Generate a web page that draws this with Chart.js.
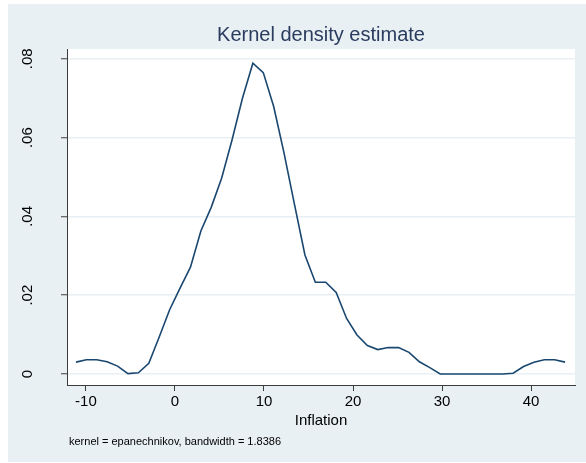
<!DOCTYPE html>
<html>
<head>
<meta charset="utf-8">
<title>Kernel density estimate</title>
<script src="https://cdn.jsdelivr.net/npm/chart.js@4/dist/chart.umd.min.js"></script>
<style>
  html, body { margin: 0; padding: 0; background: #ffffff; }
  #wrap { position: relative; width: 586px; height: 463px; }
  canvas { display: block; }
</style>
</head>
<body>
<div id="wrap"><canvas id="kd" width="586" height="463"></canvas></div>
<script>
// Evaluation grid (inflation, %) and estimated density at each grid point
const inflationGrid = [
  -11.12, -9.96, -8.79, -7.62, -6.45, -5.28, -4.11, -2.94, -1.77, -0.60,
   0.57,   1.74,  2.91,  4.07,  5.24,  6.41,  7.58,  8.75,  9.92, 11.09,
  12.26,  13.43, 14.60, 15.77, 16.94, 18.11, 19.28, 20.45, 21.62, 22.78,
  23.95,  25.12, 26.29, 27.46, 28.63, 29.80, 30.97, 32.14, 33.31, 34.48,
  35.65,  36.82, 37.99, 39.16, 40.33, 41.49, 42.66, 43.83
];
const densityValues = [
  0.0030, 0.0036, 0.0036, 0.0031, 0.0020, 0.0001, 0.0003, 0.0027, 0.0094, 0.0163,
  0.0218, 0.0271, 0.0363, 0.0423, 0.0497, 0.0594, 0.0700, 0.0789, 0.0765, 0.0679,
  0.0560, 0.0430, 0.0302, 0.0233, 0.0233, 0.0207, 0.0141, 0.0099, 0.0072, 0.0062,
  0.0067, 0.0067, 0.0055, 0.0031, 0.0016, 0.0000, 0.0000, 0.0000, 0.0000, 0.0000,
  0.0000, 0.0000, 0.0002, 0.0019, 0.0030, 0.0036, 0.0036, 0.0030
];
const xTickValues = [-10, 0, 10, 20, 30, 40];
const yTickValues = [0, 0.02, 0.04, 0.06, 0.08];
const yTickLabels = ['0', '.02', '.04', '.06', '.08'];

const titleText = 'Kernel density estimate';
const xAxisTitle = 'Inflation';
const noteText = 'kernel = epanechnikov, bandwidth = 1.8386';

const FONT = '"Liberation Sans", Arial, Helvetica, sans-serif';
const regionColor = '#E8F0F3';
const gridColor = '#E9F0F3';
const lineColor = '#1A476F';
const titleColor = '#2A3B5E';
const axisColor = '#3c3c3c';

// Backgrounds: graph region and white plot region
const backgroundPlugin = {
  id: 'backgrounds',
  beforeDraw(chart) {
    const { ctx, chartArea } = chart;
    ctx.save();
    ctx.fillStyle = '#ffffff';
    ctx.fillRect(0, 0, chart.width, chart.height);
    ctx.fillStyle = regionColor;
    ctx.fillRect(8, 4, chart.width - 8, chart.height - 5);
    ctx.fillStyle = '#ffffff';
    ctx.fillRect(chartArea.left, chartArea.top,
                 chartArea.right - chartArea.left, chartArea.bottom - chartArea.top);
    ctx.restore();
  }
};

// Title, rotated y labels, x-axis title and note
const textPlugin = {
  id: 'texts',
  afterDraw(chart) {
    const { ctx, chartArea } = chart;
    const yScale = chart.scales.y;
    const cx = (chartArea.left + chartArea.right) / 2;
    ctx.save();
    ctx.fillStyle = titleColor;
    ctx.font = '20px ' + FONT;
    ctx.textAlign = 'center';
    ctx.textBaseline = 'alphabetic';
    ctx.fillText(titleText, cx, 41);

    ctx.fillStyle = '#000000';
    ctx.font = '15px ' + FONT;
    yTickValues.forEach((v, i) => {
      const py = yScale.getPixelForValue(v);
      ctx.save();
      ctx.translate(32, py);
      ctx.rotate(-Math.PI / 2);
      ctx.textAlign = 'center';
      ctx.textBaseline = 'alphabetic';
      ctx.fillText(yTickLabels[i], 0, 0);
      ctx.restore();
    });

    ctx.font = '15px ' + FONT;
    ctx.textAlign = 'center';
    ctx.fillText(xAxisTitle, cx, 425);

    ctx.font = '11px ' + FONT;
    ctx.textAlign = 'left';
    ctx.fillText(noteText, 69, 445);
    ctx.restore();
  }
};

new Chart(document.getElementById('kd'), {
  type: 'line',
  data: {
    datasets: [{
      data: inflationGrid.map((x, i) => ({ x: x, y: densityValues[i] })),
      borderColor: lineColor,
      borderWidth: 1.6,
      pointRadius: 0,
      tension: 0,
      fill: false
    }]
  },
  options: {
    responsive: false,
    animation: false,
    devicePixelRatio: 1,
    layout: { padding: { top: 49, right: 11, left: 0, bottom: 0 } },
    plugins: { legend: { display: false }, tooltip: { enabled: false } },
    scales: {
      x: {
        type: 'linear',
        min: -12.13,
        max: 44.94,
        afterFit(scale) { scale.height = 78; },
        afterBuildTicks(scale) { scale.ticks = xTickValues.map(v => ({ value: v })); },
        grid: {
          drawOnChartArea: false,
          drawTicks: true,
          tickLength: 6,
          tickColor: axisColor,
          tickWidth: 1
        },
        border: { display: true, color: axisColor, width: 1 },
        ticks: {
          color: '#000000',
          font: { family: FONT, size: 15 },
          padding: 2,
          maxRotation: 0,
          minRotation: 0,
          callback: v => String(v)
        }
      },
      y: {
        type: 'linear',
        min: -0.0028,
        max: 0.0825,
        afterFit(scale) { scale.width = 67; },
        afterBuildTicks(scale) { scale.ticks = yTickValues.map(v => ({ value: v })); },
        grid: {
          drawOnChartArea: true,
          color: gridColor,
          lineWidth: 1.5,
          drawTicks: true,
          tickLength: 6,
          tickColor: axisColor,
          tickWidth: 1
        },
        border: { display: true, color: axisColor, width: 1 },
        ticks: { display: false }
      }
    }
  },
  plugins: [backgroundPlugin, textPlugin]
});
</script>
</body>
</html>
